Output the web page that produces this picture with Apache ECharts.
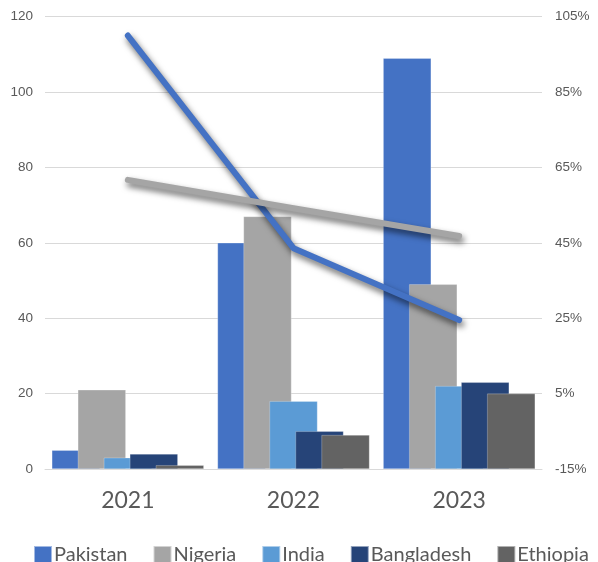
<!DOCTYPE html>
<html>
<head>
<meta charset="utf-8">
<script src="https://cdn.jsdelivr.net/npm/echarts@6/dist/echarts.min.js"></script>
<style>
html,body{margin:0;padding:0;background:#fff;}
#chart{width:598px;height:562px;}
</style>
</head>
<body>
<div id="chart"></div>
<script>
// ---- data ----
const years = ['2021', '2022', '2023'];
const pakistan = [5, 60, 109];
const nigeria = [21, 67, 49];
const india = [3, 18, 22];
const bangladesh = [4, 10, 23];
const ethiopia = [1, 9, 20];
// growth lines (percent, right axis)
const growthBlue = [100, 43.6, 24.5];
const growthGray = [61.7, 54.2, 46.8];
const leftTicks = { min: 0, max: 120, step: 20 };
const rightTicks = { min: -15, max: 105 };

const barSeries = [
  ['Pakistan', pakistan, '#4472C4'],
  ['Nigeria', nigeria, '#A5A5A5'],
  ['India', india, '#5B9BD5'],
  ['Bangladesh', bangladesh, '#264478'],
  ['Ethiopia', ethiopia, '#636363']
];

const chart = echarts.init(document.getElementById('chart'), null, { renderer: 'canvas' });
const series = barSeries.map(([name, data, color]) => ({
  name, type: 'bar', data, barWidth: 48, barGap: '-45.83%',
  itemStyle: { color, borderColor: 'rgba(255,255,255,0.5)', borderWidth: 0.5 },
  z: 2
}));
function lineSeries(name, data, color) {
  return {
    name, type: 'line', yAxisIndex: 1, data, symbol: 'none', z: 5,
    lineStyle: {
      color, width: 6, cap: 'round', join: 'round',
      shadowColor: 'rgba(0,0,0,0.6)', shadowBlur: 6, shadowOffsetX: 2, shadowOffsetY: 4
    }
  };
}
series.push(lineSeries('Growth A', growthBlue, '#4472C4'));
series.push(lineSeries('Growth B', growthGray, '#A5A5A5'));

chart.setOption({
  animation: false,
  backgroundColor: '#fff',
  textStyle: { fontFamily: 'Liberation Sans' },
  grid: { left: 45, right: 56, top: 16.7, bottom: 93, containLabel: false },
  legend: {
    data: barSeries.map(s => s[0]),
    left: 33, top: 545, padding: 0,
    itemWidth: 18, itemHeight: 18, itemGap: 25,
    icon: 'rect',
    textStyle: { fontFamily: 'Lato', fontSize: 20, color: '#595959', padding: [0, 0, 0, -3] }
  },
  xAxis: {
    type: 'category', data: years,
    axisLine: { show: true, lineStyle: { color: '#D9D9D9', width: 1 } },
    axisTick: { show: false },
    axisLabel: { fontFamily: 'Lato', fontSize: 23, color: '#595959', margin: 20 }
  },
  yAxis: [
    {
      type: 'value', min: leftTicks.min, max: leftTicks.max, interval: leftTicks.step,
      axisLine: { show: false }, axisTick: { show: false },
      axisLabel: { fontSize: 13.5, color: '#595959', margin: 12 },
      splitLine: { lineStyle: { color: '#D9D9D9', width: 1 } }
    },
    {
      type: 'value', min: rightTicks.min, max: rightTicks.max, alignTicks: true,
      axisLine: { show: false }, axisTick: { show: false },
      axisLabel: { fontSize: 13.5, color: '#595959', margin: 13, formatter: '{value}%' },
      splitLine: { show: false }
    }
  ],
  series
});
</script>
</body>
</html>
